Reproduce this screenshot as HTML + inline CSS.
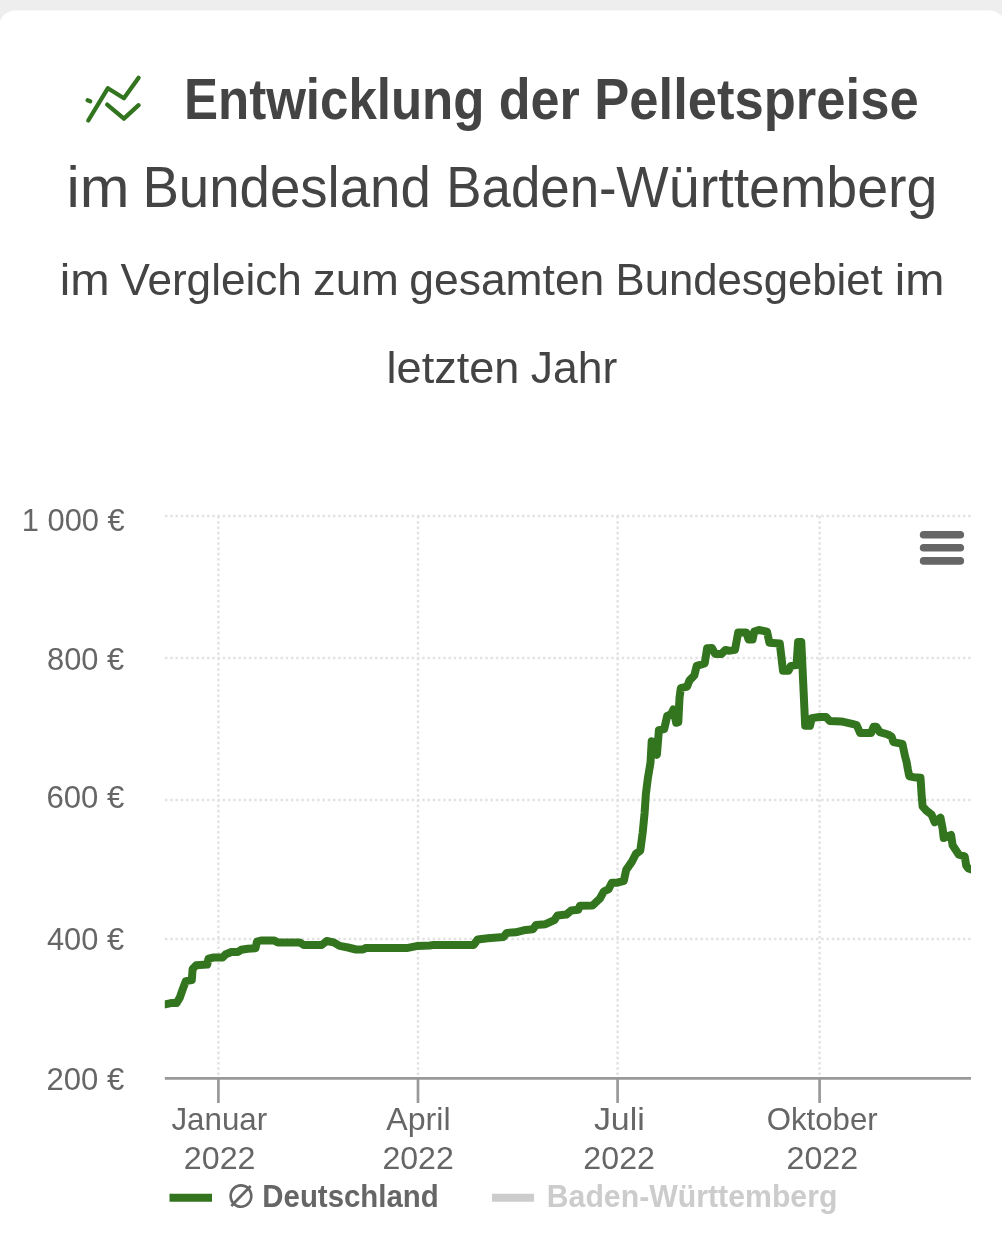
<!DOCTYPE html>
<html lang="de"><head><meta charset="utf-8"><title>Entwicklung der Pelletspreise</title>
<style>
html,body{margin:0;padding:0;background:#eee;}
body{width:1002px;height:1235px;overflow:hidden;position:relative;font-family:"Liberation Sans",sans-serif;}
svg{position:absolute;left:0;top:0;display:block;}
text{font-family:"Liberation Sans",sans-serif;}
</style></head><body>
<svg width="1002" height="1235" viewBox="0 0 1002 1235">
<rect x="0" y="0" width="1002" height="1235" fill="#eeeeee"/>
<rect x="-1" y="10.6" width="1006.5" height="1300" rx="16" ry="16" fill="#ffffff"/>
<g fill="none" stroke="#33751f" stroke-width="4.3" stroke-linecap="round" stroke-linejoin="round">
<path d="M88.3 120.5 L107.9 88.2 L123.9 98.2 L138.6 77.8"/>
<path d="M87.6 100.3 L90.2 101.2"/>
<path d="M107.2 104.6 L123.9 118.7 L138.6 105.2"/>
</g>
<text x="183.95" y="118.9" font-size="57" fill="#444444" font-weight="bold" textLength="300.50" lengthAdjust="spacingAndGlyphs">Entwicklung</text>
<text x="498.79" y="118.9" font-size="57" fill="#444444" font-weight="bold" textLength="81.08" lengthAdjust="spacingAndGlyphs">der</text>
<text x="594.26" y="118.9" font-size="57" fill="#444444" font-weight="bold" textLength="324.37" lengthAdjust="spacingAndGlyphs">Pelletspreise</text>
<text x="66.42" y="207.4" font-size="57" fill="#444444" textLength="63.00" lengthAdjust="spacingAndGlyphs">im</text>
<text x="142.42" y="207.4" font-size="57" fill="#444444" textLength="288.43" lengthAdjust="spacingAndGlyphs">Bundesland</text>
<text x="446.27" y="207.4" font-size="57" fill="#444444" textLength="170.36" lengthAdjust="spacingAndGlyphs">Baden-</text>
<text x="616.36" y="207.4" font-size="57" fill="#444444" textLength="321.15" lengthAdjust="spacingAndGlyphs">Württemberg</text>
<text x="59.68" y="295.4" font-size="45" fill="#444444" textLength="49.86" lengthAdjust="spacingAndGlyphs">im</text>
<text x="120.41" y="295.4" font-size="45" fill="#444444" textLength="181.48" lengthAdjust="spacingAndGlyphs">Vergleich</text>
<text x="313.05" y="295.4" font-size="45" fill="#444444" textLength="85.74" lengthAdjust="spacingAndGlyphs">zum</text>
<text x="409.34" y="295.4" font-size="45" fill="#444444" textLength="194.95" lengthAdjust="spacingAndGlyphs">gesamten</text>
<text x="615.55" y="295.4" font-size="45" fill="#444444" textLength="267.10" lengthAdjust="spacingAndGlyphs">Bundesgebiet</text>
<text x="894.81" y="295.4" font-size="45" fill="#444444" textLength="49.62" lengthAdjust="spacingAndGlyphs">im</text>
<text x="386.59" y="383.1" font-size="45" fill="#444444" textLength="132.83" lengthAdjust="spacingAndGlyphs">letzten</text>
<text x="530.82" y="383.1" font-size="45" fill="#444444" textLength="86.50" lengthAdjust="spacingAndGlyphs">Jahr</text>
<g stroke="#e2e2e2" stroke-width="2.4" stroke-dasharray="2.4 2.85" fill="none"><line x1="165" y1="516" x2="971" y2="516"/><line x1="165" y1="658" x2="971" y2="658"/><line x1="165" y1="800" x2="971" y2="800"/><line x1="165" y1="939" x2="971" y2="939"/></g>
<g stroke="#e2e2e2" stroke-width="2.4" stroke-dasharray="2.4 2.85" fill="none"><line x1="218.4" y1="516" x2="218.4" y2="1077"/><line x1="418" y1="516" x2="418" y2="1077"/><line x1="617.6" y1="516" x2="617.6" y2="1077"/><line x1="819.6" y1="516" x2="819.6" y2="1077"/></g>
<g stroke="#999999" stroke-width="2.7" fill="none"><line x1="164.8" y1="1078.3" x2="971" y2="1078.3"/><line x1="218.4" y1="1078.3" x2="218.4" y2="1103"/><line x1="418" y1="1078.3" x2="418" y2="1103"/><line x1="617.6" y1="1078.3" x2="617.6" y2="1103"/><line x1="819.6" y1="1078.3" x2="819.6" y2="1103"/></g>
<text x="21.75" y="530.5" font-size="30.5" fill="#666666" textLength="103.02" lengthAdjust="spacingAndGlyphs">1 000 €</text>
<text x="47.01" y="669.5" font-size="30.5" fill="#666666" textLength="77.13" lengthAdjust="spacingAndGlyphs">800 €</text>
<text x="46.43" y="808.3" font-size="30.5" fill="#666666" textLength="77.84" lengthAdjust="spacingAndGlyphs">600 €</text>
<text x="46.92" y="950.4" font-size="30.5" fill="#666666" textLength="77.17" lengthAdjust="spacingAndGlyphs">400 €</text>
<text x="46.46" y="1089.5" font-size="30.5" fill="#666666" textLength="77.80" lengthAdjust="spacingAndGlyphs">200 €</text>
<text x="171.46" y="1130.1" font-size="30.5" fill="#666666" textLength="95.69" lengthAdjust="spacingAndGlyphs">Januar</text>
<text x="183.83" y="1169.1" font-size="30.5" fill="#666666" textLength="71.66" lengthAdjust="spacingAndGlyphs">2022</text>
<text x="386.28" y="1130.1" font-size="30.5" fill="#666666" textLength="64.25" lengthAdjust="spacingAndGlyphs">April</text>
<text x="382.41" y="1169.1" font-size="30.5" fill="#666666" textLength="71.44" lengthAdjust="spacingAndGlyphs">2022</text>
<text x="593.91" y="1130.1" font-size="30.5" fill="#666666" textLength="50.90" lengthAdjust="spacingAndGlyphs">Juli</text>
<text x="583.38" y="1169.1" font-size="30.5" fill="#666666" textLength="71.52" lengthAdjust="spacingAndGlyphs">2022</text>
<text x="766.77" y="1130.1" font-size="30.5" fill="#666666" textLength="110.82" lengthAdjust="spacingAndGlyphs">Oktober</text>
<text x="786.54" y="1169.1" font-size="30.5" fill="#666666" textLength="71.65" lengthAdjust="spacingAndGlyphs">2022</text>
<clipPath id="plot"><rect x="164.8" y="500" width="806.2" height="580"/></clipPath>
<path clip-path="url(#plot)" d="M158.0 1004.6 L164.9 1004.4 L171.0 1003.1 L176.5 1003.1 L179.8 997.6 L182.5 989.9 L185.8 981.1 L191.8 980.0 L192.6 969.0 L196.2 965.2 L207.2 964.6 L208.5 958.6 L213.8 957.5 L222.6 957.5 L225.9 954.2 L231.3 952.0 L237.9 952.0 L241.2 949.8 L247.8 948.7 L255.5 948.2 L257.0 941.6 L261.0 940.5 L263.8 940.4 L273.8 940.4 L277.8 942.4 L299.7 942.4 L303.7 945.0 L321.7 945.0 L326.7 941.0 L333.7 942.4 L339.6 945.9 L348.0 947.5 L356.0 949.5 L363.0 949.5 L366.0 947.9 L407.9 947.9 L417.8 945.9 L429.8 945.5 L433.8 944.9 L473.7 944.9 L477.7 939.5 L487.7 938.3 L503.7 936.9 L506.7 932.9 L515.6 932.3 L525.6 929.9 L532.8 929.3 L536.0 925.0 L545.5 924.2 L554.3 920.2 L557.5 915.4 L566.3 914.6 L571.1 910.6 L578.3 909.8 L579.9 905.8 L592.7 905.4 L599.8 898.7 L603.8 891.5 L608.6 889.1 L611.8 882.7 L617.4 882.7 L623.8 880.8 L626.2 869.9 L631.8 861.9 L635.8 854.0 L640.3 850.5 L642.7 832.5 L644.6 813.1 L645.9 793.7 L647.9 778.1 L650.5 762.6 L651.7 741.2 L656.9 754.8 L658.9 730.2 L664.2 729.0 L667.2 716.0 L671.2 714.2 L673.4 709.5 L676.2 722.8 L678.3 722.2 L679.5 698.0 L680.8 688.2 L687.1 686.6 L689.5 680.3 L694.3 675.5 L696.7 665.9 L704.7 663.5 L707.1 648.3 L711.9 648.0 L715.1 653.9 L721.5 653.9 L725.5 649.9 L728.7 650.7 L735.0 649.9 L738.2 632.4 L746.2 632.4 L748.6 639.5 L752.6 639.5 L754.2 631.6 L759.0 630.0 L767.0 631.6 L769.4 642.7 L779.8 643.5 L783.0 670.7 L788.5 670.7 L790.9 665.9 L796.5 665.1 L798.1 641.9 L801.3 641.9 L805.2 725.8 L810.0 725.8 L811.7 718.3 L819.8 716.9 L826.0 716.9 L829.6 720.9 L841.3 721.4 L852.1 723.8 L856.6 725.0 L860.2 733.1 L871.0 733.1 L873.6 726.8 L876.3 726.8 L879.9 732.2 L888.0 734.5 L891.6 736.7 L893.4 742.1 L902.4 743.9 L905.1 756.5 L906.6 762.0 L907.9 769.5 L909.3 776.3 L913.7 777.2 L920.5 777.8 L921.6 794.7 L922.6 806.3 L926.3 810.5 L931.6 814.7 L934.7 822.3 L940.5 817.7 L942.6 828.4 L943.7 838.0 L951.1 835.0 L952.6 845.3 L958.9 854.7 L964.7 856.3 L966.3 865.8 L968.4 868.4 L975.0 870.5" fill="none" stroke="#33751f" stroke-width="8" stroke-linejoin="round" stroke-linecap="butt"/>
<g stroke="#666666" stroke-width="7.6" stroke-linecap="round"><line x1="923.6" y1="534.7" x2="960.3" y2="534.7"/><line x1="923.6" y1="547.8" x2="960.3" y2="547.8"/><line x1="923.6" y1="560.9" x2="960.3" y2="560.9"/></g>
<line x1="169.5" y1="1197.7" x2="212" y2="1197.7" stroke="#33751f" stroke-width="8"/>
<line x1="492" y1="1197.7" x2="534" y2="1197.7" stroke="#cccccc" stroke-width="8"/>
<text x="225.18" y="1207.6" font-size="31.5" fill="#666666" font-weight="500" style="font-family:'Liberation Sans','Noto Sans CJK SC',sans-serif" textLength="31.48" lengthAdjust="spacingAndGlyphs">∅</text>
<text x="262.31" y="1207" font-size="30.5" fill="#666666" font-weight="bold" textLength="176.45" lengthAdjust="spacingAndGlyphs">Deutschland</text>
<text x="546.73" y="1207" font-size="30.5" fill="#cccccc" font-weight="bold" textLength="290.72" lengthAdjust="spacingAndGlyphs">Baden-Württemberg</text>
</svg>
</body></html>
